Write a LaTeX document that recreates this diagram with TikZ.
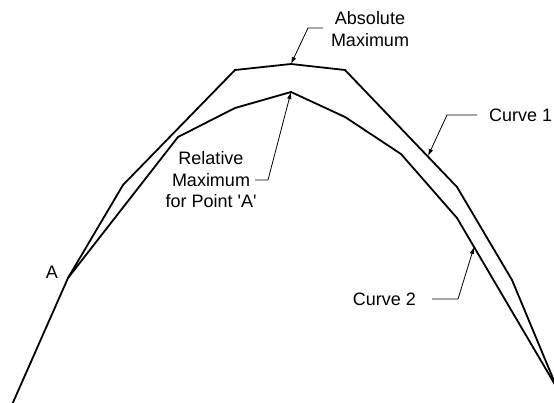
\documentclass[tikz,border=0pt]{standalone}
\usepackage{fontspec}
\setmainfont{Liberation Sans}
\usetikzlibrary{arrows.meta}
\begin{document}
\begin{tikzpicture}[x=1pt,y=-1pt,>={Latex[length=7pt,width=4.5pt]},
	curve/.style={line width=1.8pt,line join=miter},
	leader/.style={line width=0.8pt,->},
	lbl/.style={font=\fontsize{18}{21.5}\selectfont,inner sep=0pt,align=center}]
	\useasboundingbox (0,0) rectangle (554,403);
	% points on the curves
	\coordinate (A) at (68,278);\coordinate (absmax) at (291,64);\coordinate (relmax) at (291,92);
	\coordinate (onc1) at (428,156);\coordinate (onc2) at (474,247);\coordinate (end) at (557,388);
	\begin{scope}
		\clip (0,0) rectangle (554,403);
		\draw[curve] (11,407) -- (A) -- (123,185) -- (235,70) -- (absmax) -- (345,70) -- (457,187) -- (512,280) -- (end);
		\draw[curve] (A) -- (178,137) -- (235,108) -- (relmax) -- (345,117) -- (401,154) -- (457,218) -- (end);
	\end{scope}
	% labels
	\node[lbl] (alab) at (52,272) {A};
	\node[lbl] (abslab) at (370,29) {Absolute\\Maximum};
	\node[lbl] (rellab) at (211,180) {Relative\\Maximum\\for Point \textquotesingle A\textquotesingle};
	\node[lbl,anchor=west] (c1lab) at (489,115) {Curve 1};
	\node[lbl,anchor=east] (c2lab) at (416,299) {Curve 2};
	% leaders
	\coordinate (absk) at (308,28);\coordinate (relk) at (268,180);\coordinate (c1k) at (447,115);\coordinate (c2k) at (458,299);
	\draw[leader] (323,28) -- (absk) -- (absmax);
	\draw[leader] (255,180) -- (relk) -- (relmax);
	\draw[leader] (477,115) -- (c1k) -- (onc1);
	\draw[leader] (432,299) -- (c2k) -- (onc2);
\end{tikzpicture}
\end{document}
